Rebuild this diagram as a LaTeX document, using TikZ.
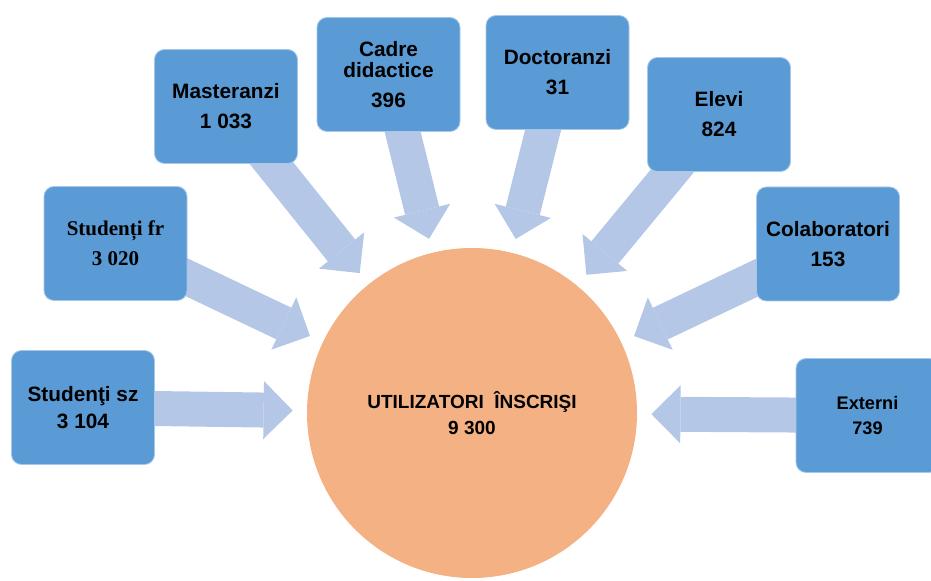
\documentclass[tikz,border=0pt]{standalone}
\usepackage{fontspec}
\setmainfont{Liberation Sans}
\newfontfamily\serifbold{Liberation Serif}
\usetikzlibrary{arrows.meta,backgrounds}
\definecolor{boxblue}{HTML}{5B9BD5}
\definecolor{arrowblue}{HTML}{B4C7E7}
\definecolor{huborange}{HTML}{F4B183}
\tikzset{
  basic/.style = {font=\bfseries\fontsize{10.4}{15}\selectfont, align=center},
  group/.style = {basic, rectangle, rounded corners=5pt, fill=boxblue,
                  draw=boxblue!55!white, line width=0.4pt,
                  minimum width=71.5pt, minimum height=57pt, inner sep=0pt},
  hub/.style   = {basic, circle, fill=huborange, minimum size=165pt,
                  font=\bfseries\fontsize{9.5}{13}\selectfont},
  feed/.style  = {draw=arrowblue, line width=17.5pt, shorten >=7pt, shorten <=-8pt,
                  -{Triangle[length=14.5pt,width=29pt,line width=0pt]}}
}

\begin{document}
\begin{tikzpicture}[x=0.5pt,y=-0.5pt]
\useasboundingbox (0,0) rectangle (931,581);

% centre
\node[hub] (users) at (472,413) {UTILIZATORI\ \ ÎNSCRIŞI\\9 300};

% groups of users
\node[group, font=\bfseries\fontsize{10.4}{13.5}\selectfont] (sz) at (83,407.5) {Studenţi sz\\3 104};
\node[group, font=\serifbold\bfseries\fontsize{10.5}{15}\selectfont] (fr) at (115.5,243.5) {Studenți fr\\3 020};
\node[group] (master) at (226,106.5) {Masteranzi\\1 033};
\node[group] (cadre) at (388.5,74.5) {Cadre\\[-4.5pt]didactice\\396};
\node[group] (doct) at (557.5,72.5) {Doctoranzi\\31};
\node[group] (elevi) at (719,114.5) {Elevi\\824};
\node[group] (colab) at (828,244) {Colaboratori\\153};
\node[group, font=\bfseries\fontsize{9.1}{12.5}\selectfont] (ext) at (867.5,415.5) {Externi\\739};

% arrows into the centre
\begin{scope}[on background layer]
  \foreach \src in {sz,fr,master,cadre,doct,elevi,colab,ext}
    \draw[feed] (\src) -- (users);
\end{scope}
\end{tikzpicture}
\end{document}
